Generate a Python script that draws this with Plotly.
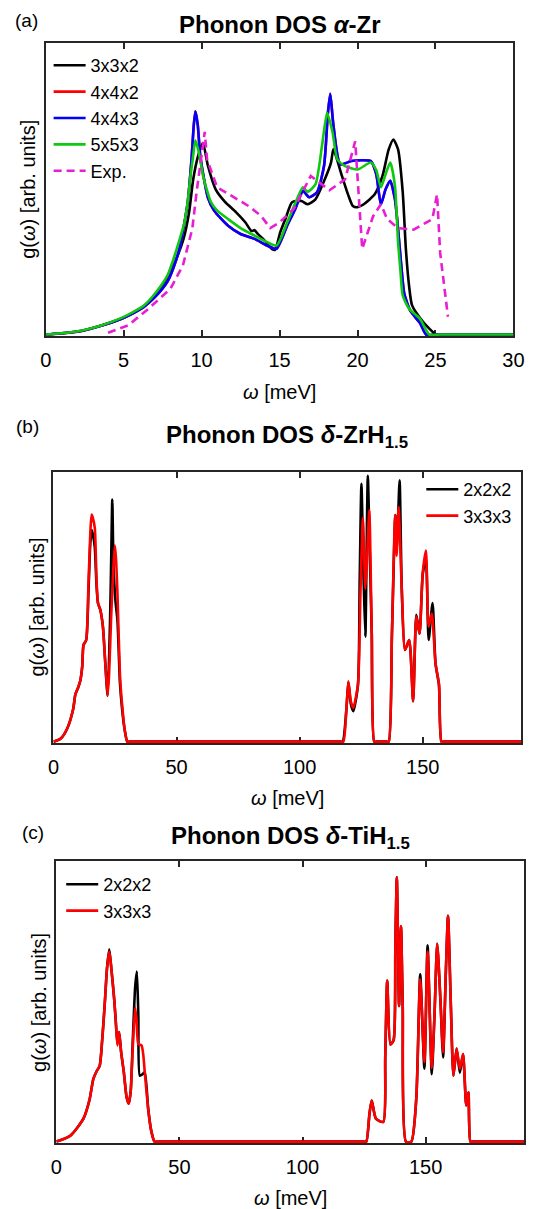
import plotly.graph_objects as go

W, H = 538, 1209
FONT = "Liberation Sans, Arial, Helvetica, sans-serif"

# ---------------- Panel (a): alpha-Zr ----------------
A_BLACK_X = [0, 1.5, 2.4, 3.5, 4.9, 6.3, 7.0, 7.8, 8.3, 8.84, 9.2, 9.46, 9.77, 10.08, 10.4, 10.9, 11.5, 12.2,
             12.8, 13.2, 13.4, 13.6, 14.0, 14.5, 14.7, 15.05, 15.4, 15.8, 16.4, 16.8, 17.3, 17.8, 18.3, 18.45,
             19.0, 19.4, 19.7, 20.0, 20.4, 21.1, 21.6, 22.0, 22.3, 22.6, 22.9, 23.1, 23.3, 23.5, 24.2, 24.8, 25.0,
             25.8, 30]
A_BLACK_Y = [0, 0.6, 1.3, 3.0, 5.5, 9.7, 13, 19.5, 25, 32.8, 42, 53.2, 61.2, 65.8, 58, 49.8, 45.5, 42.0,
             38.5, 35.5, 35.8, 34.5, 32.5, 29.4, 29.0, 35.2, 40, 45.4, 45.8, 44.7, 46.4, 52, 59, 63.5,
             54.4, 47.9, 44.1, 43.7, 44.7, 48.1, 54.4, 63.5, 66.9, 63.5, 48.8, 29.4, 17, 10.0, 4.4, 1.0, 0,
             0, 0]

A_RED_X = [0, 1.5, 2.4, 3.5, 4.9, 5.6, 6.3, 7.0, 7.8, 8.2, 8.6, 9.1, 9.35, 9.5, 9.6, 9.75, 9.9, 10.1, 10.4,
           10.8, 11.7, 12.5, 13.4, 14.2, 14.8, 15.5, 16.0, 16.5, 16.9, 17.4, 17.85, 18.1, 18.25, 18.45, 18.9,
           19.6, 20.85, 21.2, 21.5, 21.8, 22.1, 22.4, 22.6, 22.8, 23.0, 23.4, 24.0, 24.4, 25.1, 30]
A_RED_Y = [0, 0.7, 1.4, 2.9, 5.5, 7.3, 9.5, 12.8, 18.1, 23, 30, 45, 60, 72, 76.6, 72, 62, 55, 47,
           42.5, 37.3, 34.5, 32.8, 30.5, 29.4, 37.5, 43, 49.2, 47.1, 48.8, 57.8, 76, 82.6, 72, 58.4,
           59.5, 59.5, 55, 44.7, 49.8, 52.7, 46.4, 36.2, 24, 14, 8, 4, 0, 0, 0]

A_BLUE_X = [0, 1.5, 2.4, 3.5, 4.9, 5.6, 6.3, 7.0, 7.8, 8.2, 8.6, 9.1, 9.35, 9.5, 9.6, 9.75, 9.9, 10.1, 10.4,
            10.8, 11.7, 12.5, 13.4, 14.2, 14.8, 15.5, 16.0, 16.5, 16.9, 17.4, 17.85, 18.1, 18.25, 18.45, 18.9,
            19.6, 20.85, 21.2, 21.5, 21.8, 22.1, 22.4, 22.6, 22.8, 23.0, 23.4, 24.0, 24.4, 25.1, 30]
A_BLUE_Y = [0, 0.7, 1.4, 2.9, 5.5, 7.3, 9.5, 12.8, 18.1, 23, 30, 45, 60, 72, 76.6, 72, 62, 55, 47,
            42.5, 37.3, 34.5, 32.8, 30.5, 29.4, 37.5, 43, 49.2, 47.1, 48.8, 57.8, 76, 82.6, 72, 58.4,
            59.5, 59.5, 55, 44.7, 49.8, 52.7, 46.4, 36.2, 24, 14, 8, 4, 0, 0, 0]

A_GREEN_X = [0, 1.5, 2.4, 3.5, 4.9, 5.6, 6.3, 7.0, 7.8, 8.2, 8.6, 8.9, 9.1, 9.3, 9.45, 9.6, 9.8, 10.1, 10.4,
             10.6, 11.0, 11.7, 12.5, 13.4, 14.2, 14.8, 15.5, 16.0, 16.5, 16.8, 17.3, 17.75, 18.05, 18.4, 18.7,
             19.2, 20.0, 20.85, 21.2, 21.5, 21.8, 22.1, 22.4, 22.6, 22.75, 22.9, 23.3, 24.0, 24.6, 25.3, 30]
A_GREEN_Y = [0, 0.7, 1.5, 3.0, 5.8, 7.7, 10.0, 14.0, 20.2, 26, 32.8, 38.5, 45.4, 55, 61, 66.6, 63, 54.3, 48.5,
             45.4, 42.5, 39.6, 36.5, 33.9, 31.7, 30.5, 38.6, 45, 50.5, 49.0, 51.5, 65.9, 76.1, 69.3, 60.1,
             57.8, 56.6, 59.0, 56.4, 50.5, 55, 59.0, 51.0, 31.7, 22, 13.4, 8.9, 5.5, 0, 0, 0]

A_EXP_X = [4.0, 5.3, 6.6, 8.0, 8.8, 9.4, 9.7, 10.0, 10.2, 10.35, 11.0, 12.6, 13.0, 13.8, 14.4, 15.0, 15.9,
           17.0, 18.2, 19.2, 19.85, 20.3, 21.0, 21.5, 21.9, 22.6, 23.6, 24.8, 25.1, 25.3, 25.8]
A_EXP_Y = [0.6, 3.2, 8.9, 15.7, 23.7, 36.2, 49.8, 62.5, 69.5, 60, 50.5, 45.4, 44.1, 40.8, 36.5, 38.5, 43,
           54.4, 49.5, 53.2, 66.3, 29.4, 40.6, 44.7, 39.6, 36.5, 36, 39.6, 48.1, 28, 6.1]

A_NAMES = ["3x3x2", "4x4x2", "4x4x3", "5x5x3", "Exp."]
A_TICKS = [0, 5, 10, 15, 20, 25, 30]

# ---------------- Panel (b): delta-ZrH1.5 ----------------
B_BLACK_X = [0, 3, 5.6, 8.0, 8.9, 10.0, 10.9, 11.7, 12.2, 13.3, 14.2, 15.0, 15.6, 16.2, 16.8, 17.5, 18.1, 19.0,
             20.1, 21.0, 22.0, 23.0, 23.5, 23.9, 24.4, 25.2, 26.0, 27.0, 27.9, 29.0, 30.0, 31.0, 116.5, 117.5,
             119.0, 119.8, 120.8, 121.8, 123.7, 124.4, 125.1, 126.0, 126.7, 127.2, 127.7, 128.5, 129.3, 130.3,
             131.2, 135.3, 136.2, 137.5, 138.9, 139.5, 140.6, 141.5, 142.8, 144.5, 146.1, 147.4, 148.7, 150.0,
             151.3, 152.4, 154.0, 155.2, 156.6, 157.6, 158.6, 190]
B_BLACK_Y = [0, 1.2, 4.9, 12, 17.5, 20, 22.6, 28, 35.8, 37.7, 55, 74, 78.5, 76, 72, 58, 51.3, 49,
             42.6, 30, 17, 45, 70, 89.8, 65, 52, 45, 22, 12, 4, 0, 0, 0, 0,
             12, 22, 14, 11.3, 21, 60, 95.6, 60, 38.9, 70, 98.6, 70, 40, 0,
             0, 0, 0, 40, 84, 72, 96.9, 56, 34, 37.7, 15, 47, 40, 62,
             68, 37.7, 51.4, 29, 21, 0, 0, 0]

B_RED_X = [0, 3, 5.6, 8.0, 8.9, 10.0, 10.9, 11.7, 12.2, 13.3, 14.2, 15.0, 15.5, 16.0, 16.8, 17.5, 18.1, 19.0,
           20.1, 21.0, 22.0, 22.6, 23.4, 24.2, 24.9, 25.4, 26.0, 27.0, 27.9, 29.0, 30.0, 31.0, 116.8, 117.8,
           119.0, 119.8, 120.8, 121.8, 123.7, 124.7, 125.7, 126.7, 127.5, 128.3, 129.3, 130.3, 131.2, 135.3,
           136.2, 137.5, 138.8, 139.4, 140.2, 141.5, 142.8, 144.5, 146.1, 147.4, 148.7, 150.0, 151.3, 152.4,
           153.7, 155.2, 156.6, 157.6, 158.6, 190]
B_RED_Y = [0, 1.2, 4.9, 12, 17.5, 20, 22.6, 28, 35.8, 37.7, 57.7, 78, 84.2, 83, 79.2, 60, 51.3, 49,
           42.6, 30, 17, 25, 45.3, 62, 72.8, 68, 55, 25, 13.6, 4, 0, 0, 0, 0,
           12, 22.4, 15, 12.5, 21.4, 55, 83, 56.6, 70, 85.8, 40, 0, 0, 0,
           0, 40, 84, 69, 87.0, 56.6, 34, 37.7, 15, 46.4, 40, 62.6, 70.9, 42.6,
           47.5, 28.9, 21.4, 0, 0, 0]

# ---------------- Panel (c): delta-TiH1.5 ----------------
C_BLACK_X = [0, 5.8, 11.0, 13.5, 15.0, 16.3, 17.6, 18.6, 19.6, 20.6, 21.5, 22.3, 23.5, 24.2, 24.8, 25.5, 26.3,
             27.4, 28.5, 29.4, 30.2, 31.0, 32.0, 32.7, 33.3, 33.9, 35.0, 35.9, 37.3, 38.5, 39.9, 41.0, 124.8,
             125.9, 127.2, 128.1, 129.8, 132.8, 133.6, 134.4, 135.7, 137.0, 137.7, 138.3, 138.8, 139.2, 140.0,
             140.7, 142.0, 144.2, 146.2, 147.8, 149.5, 150.8, 152.5, 153.6, 154.7, 156.0, 157.1, 158.2, 159.1,
             160.2, 161.3, 162.6, 163.9, 165.2, 166.5, 167.4, 168.2, 169.2, 190]
C_BLACK_Y = [0, 2.2, 8.2, 15, 22.3, 25, 27, 36, 48.3, 62, 68.5, 62, 50.7, 42, 35, 39, 32,
             24.8, 16, 13.5, 18, 35, 55, 60.6, 45, 23.5, 24, 24.8, 11.7, 4, 0, 0, 0,
             0, 10, 14.6, 8.2, 7.0, 30, 57.4, 34.6, 36.2, 70, 94.2, 70, 48.3, 76.7,
             48.3, 0, 0, 15.2, 59.6, 26, 70, 24, 45, 70.5, 50.7, 30, 60, 80.5,
             50, 23.5, 33.2, 24.5, 31.2, 12.9, 17.6, 0, 0, 0]

C_RED_X = [0, 5.8, 11.0, 13.5, 15.0, 16.3, 17.6, 18.6, 19.6, 20.6, 21.5, 22.3, 23.5, 24.2, 24.8, 25.5, 26.3,
           27.4, 28.5, 29.4, 30.2, 31.0, 32.0, 32.6, 33.3, 34.6, 35.3, 35.9, 37.3, 38.5, 39.9, 41.0, 124.8,
           125.9, 127.2, 128.1, 129.8, 132.8, 133.6, 134.4, 135.7, 137.0, 137.7, 138.3, 138.8, 139.2, 140.0,
           140.7, 142.0, 144.2, 146.2, 147.8, 149.5, 150.8, 152.5, 153.6, 154.7, 156.0, 157.1, 158.2, 159.1,
           160.2, 161.3, 162.6, 163.9, 165.2, 166.5, 167.4, 168.2, 169.2, 190]
C_RED_Y = [0, 2.2, 8.2, 15, 22.3, 25, 27, 36, 48.3, 62, 67.7, 62, 50.7, 42, 34.3, 39, 32,
           24.8, 16, 13.5, 18, 33, 47.8, 43, 34.8, 34.3, 31, 24.8, 11.7, 4, 0, 0, 0,
           0, 10, 14.6, 8.2, 7.0, 30, 57.4, 34.6, 36.2, 70, 94.2, 70, 48.3, 76.7,
           48.3, 0, 0, 15.2, 57.8, 28.3, 67.7, 26.2, 45, 70.5, 50.7, 31.8, 60, 80.5,
           50, 23.5, 33.2, 25.9, 31.2, 12.9, 17.6, 0, 0, 0]

BC_NAMES = ["2x2x2", "3x3x3"]
BC_TICKS = [0, 50, 100, 150]

# ---------------- Styles / layout helpers ----------------
C_BLACK, C_RED, C_BLUE, C_GREEN, C_MAG = "#000000", "#ff0000", "#0000ff", "#10c810", "#e81ed2"
AXC = "#262626"
LW = 2.6


def px(x):
    return x / W


def py(y):
    return 1 - y / H


fig = go.Figure()


def add(x, y, color, name, xa, ya, leg, dash=None, shape="spline"):
    line = dict(color=color, width=LW, shape=shape)
    if shape == "spline":
        line["smoothing"] = 0.6
    if dash:
        line["dash"] = dash
    fig.add_trace(go.Scatter(x=x, y=y, mode="lines", name=name, line=line,
                             xaxis=xa, yaxis=ya, legend=leg))


add(A_BLACK_X, A_BLACK_Y, C_BLACK, A_NAMES[0], "x", "y", "legend")
add(A_RED_X, A_RED_Y, C_RED, A_NAMES[1], "x", "y", "legend")
add(A_BLUE_X, A_BLUE_Y, C_BLUE, A_NAMES[2], "x", "y", "legend")
add(A_GREEN_X, A_GREEN_Y, C_GREEN, A_NAMES[3], "x", "y", "legend")
add(A_EXP_X, A_EXP_Y, C_MAG, A_NAMES[4], "x", "y", "legend", dash="8px,5px", shape="linear")

add(B_BLACK_X, B_BLACK_Y, C_BLACK, BC_NAMES[0], "x2", "y2", "legend2")
add(B_RED_X, B_RED_Y, C_RED, BC_NAMES[1], "x2", "y2", "legend2")

add(C_BLACK_X, C_BLACK_Y, C_BLACK, BC_NAMES[0], "x3", "y3", "legend3")
add(C_RED_X, C_RED_Y, C_RED, BC_NAMES[1], "x3", "y3", "legend3")

boxes = {
    "a": dict(l=41, r=524, t=43, b=336),
    "b": dict(l=49, r=532, t=472, b=743),
    "c": dict(l=52, r=535, t=861, b=1143),
}

TICKF = dict(family=FONT, size=20, color="#000000")


def xaxis(box, rng, ticks, anchor):
    return dict(domain=[px(box["l"]), px(box["r"])], range=rng, anchor=anchor,
                tickvals=ticks, ticktext=[str(t) for t in ticks],
                ticks="inside", ticklen=6, tickwidth=1.5, tickcolor=AXC,
                showline=True, linecolor=AXC, linewidth=2, mirror="ticks",
                showgrid=False, zeroline=False, tickfont=TICKF, layer="below traces",
                ticklabelstandoff=5)


def yaxis(box, anchor):
    return dict(domain=[py(box["b"]), py(box["t"])], range=[-0.5, 100], anchor=anchor,
                showticklabels=False, ticks="", showline=True, linecolor=AXC, linewidth=2,
                mirror=True, showgrid=False, zeroline=False, layer="below traces")


LEGF = dict(family=FONT, size=18, color="#000000")


def legend(x, y, xanchor):
    return dict(x=x, y=y, xanchor=xanchor, yanchor="top", font=LEGF, bgcolor="rgba(0,0,0,0)",
                borderwidth=0, itemwidth=32, tracegroupgap=0)


annotations = []


def ann(text, x, y, size=20, angle=0, xanchor="center"):
    annotations.append(dict(text=text, x=px(x), y=py(y), xref="paper", yref="paper",
                            showarrow=False, xanchor=xanchor, yanchor="middle", textangle=angle,
                            font=dict(family=FONT, size=size, color="#000000")))


TITLE_SIZE = 24
ann("(a)", 21, 20, size=19)
ann("<b>Phonon DOS <i>α</i>-Zr</b>", (41 + 524) / 2, 25, size=TITLE_SIZE)
ann("<i>ω</i> [meV]", (41 + 524) / 2, 392)
ann("g(<i>ω</i>) [arb. units]", 23, (43 + 336) / 2, angle=-90)

ann("(b)", 22, 426, size=19)
ann("<b>Phonon DOS <i>δ</i>-ZrH<sub>1.5</sub></b>", (49 + 532) / 2, 436, size=TITLE_SIZE)
ann("<i>ω</i> [meV]", (49 + 532) / 2, 798)
ann("g(<i>ω</i>) [arb. units]", 31, (472 + 743) / 2, angle=-90)

ann("(c)", 28, 833, size=19)
ann("<b>Phonon DOS <i>δ</i>-TiH<sub>1.5</sub></b>", (52 + 535) / 2, 837, size=TITLE_SIZE)
ann("<i>ω</i> [meV]", (52 + 535) / 2, 1198)
ann("g(<i>ω</i>) [arb. units]", 34, (861 + 1143) / 2, angle=-90)

fig.update_layout(
    width=W, height=H, margin=dict(l=0, r=0, t=0, b=0),
    paper_bgcolor="white", plot_bgcolor="white",
    font=dict(family=FONT, size=18, color="#000000"),
    xaxis=xaxis(boxes["a"], [0, 30], A_TICKS, "y"),
    yaxis=yaxis(boxes["a"], "x"),
    xaxis2=xaxis(boxes["b"], [0, 190], BC_TICKS, "y2"),
    yaxis2=yaxis(boxes["b"], "x2"),
    xaxis3=xaxis(boxes["c"], [0, 190], BC_TICKS, "y3"),
    yaxis3=yaxis(boxes["c"], "x3"),
    legend=legend(px(44), py(47), "left"),
    legend2=legend(px(528), py(471), "right"),
    legend3=legend(px(57), py(866), "left"),
    annotations=annotations,
    showlegend=True,
)

fig.write_html("out.html")
